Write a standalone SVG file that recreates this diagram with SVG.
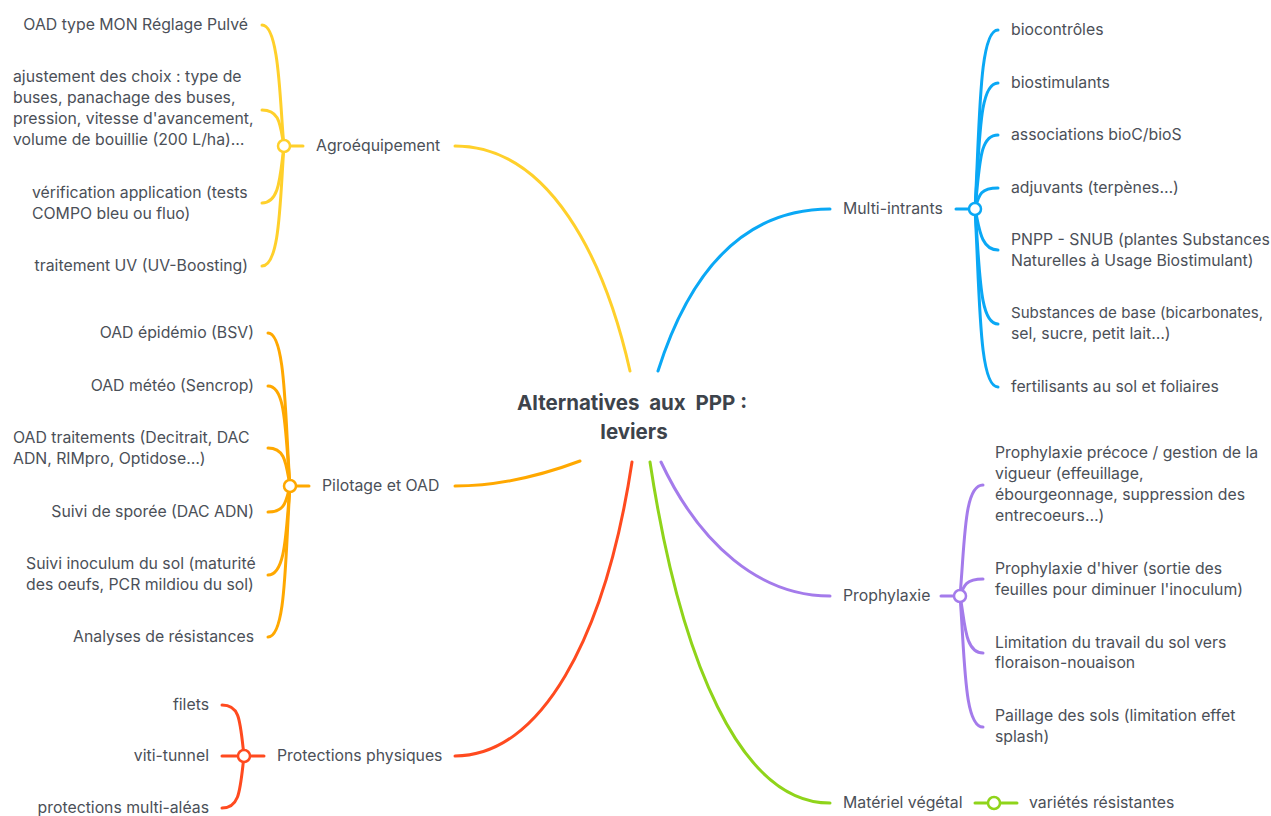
<svg xmlns="http://www.w3.org/2000/svg" width="1271" height="816" viewBox="0 0 1271 816">
<style>
.t{font-family:Inter,"Noto Sans","Liberation Sans",sans-serif;font-size:15.8px;fill:#4b5058}
.s{font-size:15.1px}
.e{text-anchor:end}
.c{font-family:Inter,"Noto Sans","Liberation Sans",sans-serif;font-size:20.5px;font-weight:bold;fill:#3d434b;text-anchor:middle;white-space:pre}
.l{fill:none;stroke-width:3;stroke-linecap:round}
.y{stroke:#ffd02b}.o{stroke:#ffa800}.r{stroke:#ff4a1f}.b{stroke:#0aa8f5}.p{stroke:#a47beb}.g{stroke:#8fd41a}
.k{fill:#fff;stroke-width:2.5}
</style>
<rect width="1271" height="816" fill="#fff"/>
<g id="connectors">
<path class="l y" d="M630,371 C605,260 550,146 455,146"/>
<path class="l b" d="M658,371 C690,270 745,209 830,209"/>
<path class="l o" d="M580,461 C540,476 500,486 455,486"/>
<path class="l r" d="M632,462 C605,640 540,756 455,756"/>
<path class="l g" d="M650,462 C680,660 740,803 830,803"/>
<path class="l p" d="M661,462 C700,545 760,596 830,596"/>
<g class="l y">
<path d="M303,146 L290,146"/>
<path d="M284,146 C280,110 280,25 262,25"/>
<path d="M284,146 C280,125 280,110 262,110"/>
<path d="M284,146 C280,175 280,203 262,203"/>
<path d="M284,146 C280,200 280,266 262,266"/>
</g>
<g class="l o">
<path d="M309,486 L296,486"/>
<path d="M290,486 C285,420 286,333 268,333"/>
<path d="M290,486 C285,430 286,386 268,386"/>
<path d="M290,486 C286,465 286,448 268,448"/>
<path d="M290,486 C286,500 286,512 268,512"/>
<path d="M290,486 C286,530 286,575 268,575"/>
<path d="M290,486 C285,560 286,637 268,637"/>
</g>
<g class="l r">
<path d="M264,756 L250,756"/>
<path d="M244,756 C240,720 240,705 222,705"/>
<path d="M238,756 L222,756"/>
<path d="M244,756 C240,790 240,808 222,808"/>
</g>
<g class="l b">
<path d="M956,209 L969,209"/>
<path d="M975,209 C980,120 979,30 998,30"/>
<path d="M975,209 C980,140 979,83 998,83"/>
<path d="M975,209 C980,165 979,135 998,135"/>
<path d="M975,209 C979,195 980,188 998,188"/>
<path d="M975,209 C979,225 980,250 998,250"/>
<path d="M975,209 C980,270 979,324 998,324"/>
<path d="M975,209 C980,300 979,387 998,387"/>
</g>
<g class="l p">
<path d="M941,596 L954,596"/>
<path d="M960,596 C965,540 964,485 983,485"/>
<path d="M960,596 C964,585 966,579 983,579"/>
<path d="M960,596 C965,620 964,653 983,653"/>
<path d="M960,596 C965,660 964,727 983,727"/>
</g>
<g class="l g">
<path d="M975,803 L988,803"/>
<path d="M1000,803 L1017,803"/>
</g>
<circle class="k y" cx="284" cy="146" r="6"/>
<circle class="k o" cx="290" cy="486" r="6"/>
<circle class="k r" cx="244" cy="756" r="6"/>
<circle class="k b" cx="975" cy="209" r="6"/>
<circle class="k p" cx="960" cy="596" r="6"/>
<circle class="k g" cx="994" cy="803" r="6"/>
</g>
<g id="center"><text class="c" x="632" y="410">Alternatives  aux  PPP :</text><text class="c" x="634" y="439">leviers</text></g>
<g id="agro"><text class="t" x="316" y="151">Agroéquipement</text></g>
<g id="agro-1"><text class="t e" x="248" y="30">OAD type MON Réglage Pulvé</text></g>
<g id="agro-2"><text class="t" x="13" y="82">ajustement des choix : type de</text><text class="t" x="13" y="103">buses, panachage des buses,</text><text class="t" x="13" y="124">pression, vitesse d'avancement,</text><text class="t" x="13" y="145">volume de bouillie (200 L/ha)…</text></g>
<g id="agro-3"><text class="t" x="32" y="198">vérification application (tests</text><text class="t" x="32" y="219">COMPO bleu ou fluo)</text></g>
<g id="agro-4"><text class="t e" x="248" y="271">traitement UV (UV-Boosting)</text></g>
<g id="pilot"><text class="t" x="322" y="491">Pilotage et OAD</text></g>
<g id="pilot-1"><text class="t e" x="254" y="338">OAD épidémio (BSV)</text></g>
<g id="pilot-2"><text class="t e" x="254" y="391">OAD météo (Sencrop)</text></g>
<g id="pilot-3"><text class="t" x="13" y="443">OAD traitements (Decitrait, DAC</text><text class="t" x="13" y="464">ADN, RIMpro, Optidose…)</text></g>
<g id="pilot-4"><text class="t e" x="254" y="517">Suivi de sporée (DAC ADN)</text></g>
<g id="pilot-5"><text class="t" x="26" y="569">Suivi inoculum du sol (maturité</text><text class="t" x="26" y="590">des oeufs, PCR mildiou du sol)</text></g>
<g id="pilot-6"><text class="t e" x="254" y="642">Analyses de résistances</text></g>
<g id="prot"><text class="t" x="277" y="761">Protections physiques</text></g>
<g id="prot-1"><text class="t e" x="209" y="710">filets</text></g>
<g id="prot-2"><text class="t e" x="209" y="761">viti-tunnel</text></g>
<g id="prot-3"><text class="t e" x="209" y="813">protections multi-aléas</text></g>
<g id="multi"><text class="t" x="843" y="214">Multi-intrants</text></g>
<g id="multi-1"><text class="t" x="1011" y="35">biocontrôles</text></g>
<g id="multi-2"><text class="t" x="1011" y="88">biostimulants</text></g>
<g id="multi-3"><text class="t" x="1011" y="140">associations bioC/bioS</text></g>
<g id="multi-4"><text class="t" x="1011" y="193">adjuvants (terpènes…)</text></g>
<g id="multi-5"><text class="t" x="1011" y="245">PNPP - SNUB (plantes Substances</text><text class="t" x="1011" y="266">Naturelles à Usage Biostimulant)</text></g>
<g id="multi-6"><text class="t s" x="1011" y="318">Substances de base (bicarbonates,</text><text class="t" x="1011" y="339">sel, sucre, petit lait…)</text></g>
<g id="multi-7"><text class="t" x="1011" y="392">fertilisants au sol et foliaires</text></g>
<g id="proph"><text class="t" x="843" y="601">Prophylaxie</text></g>
<g id="proph-1"><text class="t" x="995" y="458">Prophylaxie précoce / gestion de la</text><text class="t" x="995" y="479">vigueur (effeuillage,</text><text class="t" x="995" y="500">ébourgeonnage, suppression des</text><text class="t" x="995" y="521">entrecoeurs…)</text></g>
<g id="proph-2"><text class="t" x="995" y="574">Prophylaxie d'hiver (sortie des</text><text class="t" x="995" y="595">feuilles pour diminuer l'inoculum)</text></g>
<g id="proph-3"><text class="t" x="995" y="648">Limitation du travail du sol vers</text><text class="t" x="995" y="668">floraison-nouaison</text></g>
<g id="proph-4"><text class="t" x="995" y="721">Paillage des sols (limitation effet</text><text class="t" x="995" y="742">splash)</text></g>
<g id="veg"><text class="t" x="843" y="808">Matériel végétal</text></g>
<g id="veg-1"><text class="t" x="1029" y="808">variétés résistantes</text></g>
</svg>
